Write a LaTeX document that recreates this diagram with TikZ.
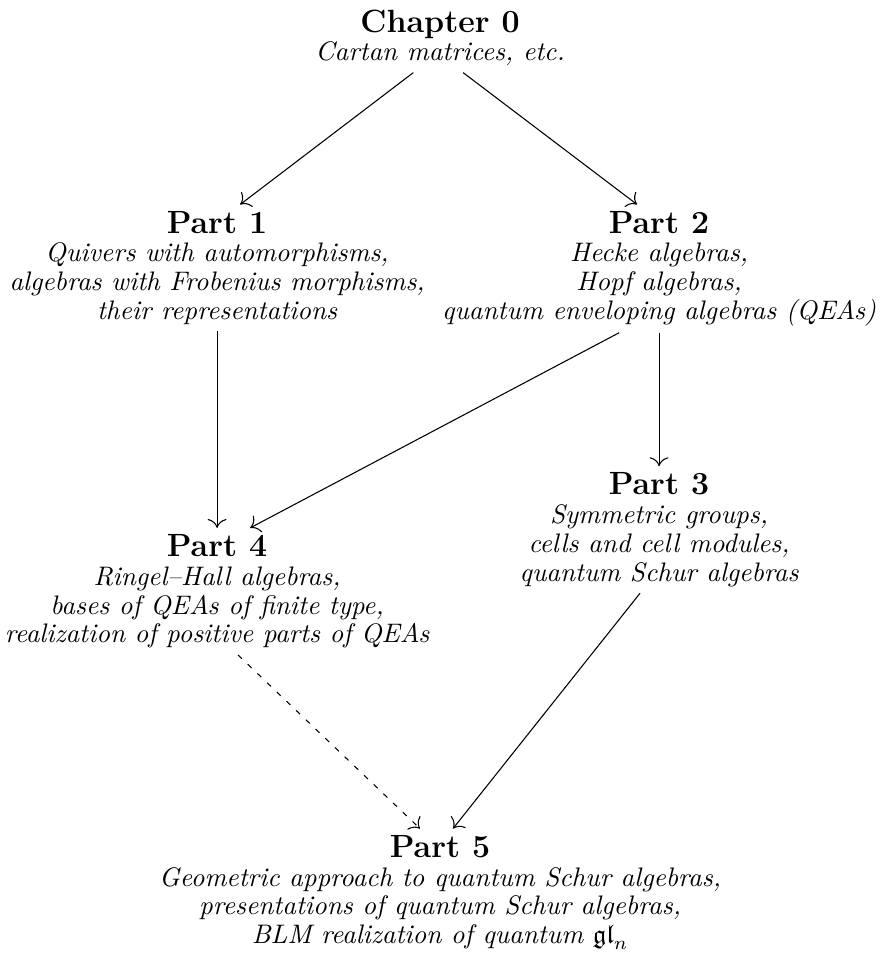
\documentclass[tikz,border=0pt]{standalone}
\usepackage{amssymb}
\usepackage{tikz}
\usetikzlibrary{positioning, arrows.meta}
\newcommand{\parthead}[1]{{\normalfont\large\bfseries #1}}
\begin{document}
\begin{tikzpicture}[align=center, >={To[scale=1.35]},
    every node/.style={font=\itshape\setlength{\baselineskip}{10.7pt}, inner xsep=0pt, inner ysep=2.5pt, outer sep=0pt},
    dep/.style={->},
    weakdep/.style={->, dash pattern=on 2pt off 3pt}]
  \useasboundingbox (0,0) rectangle (328.4pt,-357.8pt);
  \node (ch0) [anchor=north] at (164.2pt,-1.1pt) {\parthead{Chapter 0}\\ Cartan matrices, etc.};
  \node (p1) [below=49.2pt of ch0, xshift=-83.2pt] {\parthead{Part 1}\\ Quivers with automorphisms,\\ algebras with Frobenius morphisms,\\ their representations};
  \node (p2) [below=49.2pt of ch0, xshift=81.7pt] {\parthead{Part 2}\\ Hecke algebras,\\ Hopf algebras,\\ quantum enveloping algebras (QEAs)};
  \node (p3) [below=49.8pt of p2] {\parthead{Part 3}\\ Symmetric groups,\\ cells and cell modules,\\ quantum Schur algebras};
  \node (p4) [below=73.4pt of p1] {\parthead{Part 4}\\ Ringel–Hall algebras,\\ bases of QEAs of finite type,\\ realization of positive parts of QEAs};
  \node (p5) [below=64.8pt of p4, xshift=83.2pt] {\parthead{Part 5}\\ Geometric approach to quantum Schur algebras,\\ presentations of quantum Schur algebras,\\ BLM realization of quantum $\mathfrak{gl}_n$};

  \draw[dep] ([xshift=-10pt]ch0.south) -- ([xshift=8.6pt]p1.north);
  \draw[dep] ([xshift=8.6pt]ch0.south) -- ([xshift=-8.2pt]p2.north);
  \draw[dep] (p1) -- (p4);
  \draw[dep] ([xshift=-14.9pt]p2.south) -- ([xshift=12.3pt]p4.north);
  \draw[dep] (p2) -- (p3);
  \draw[weakdep] ([xshift=7.8pt]p4.south) -- ([xshift=-7.5pt]p5.north);
  \draw[dep] ([xshift=-7.1pt]p3.south) -- ([xshift=4.8pt]p5.north);
\end{tikzpicture}
\end{document}
